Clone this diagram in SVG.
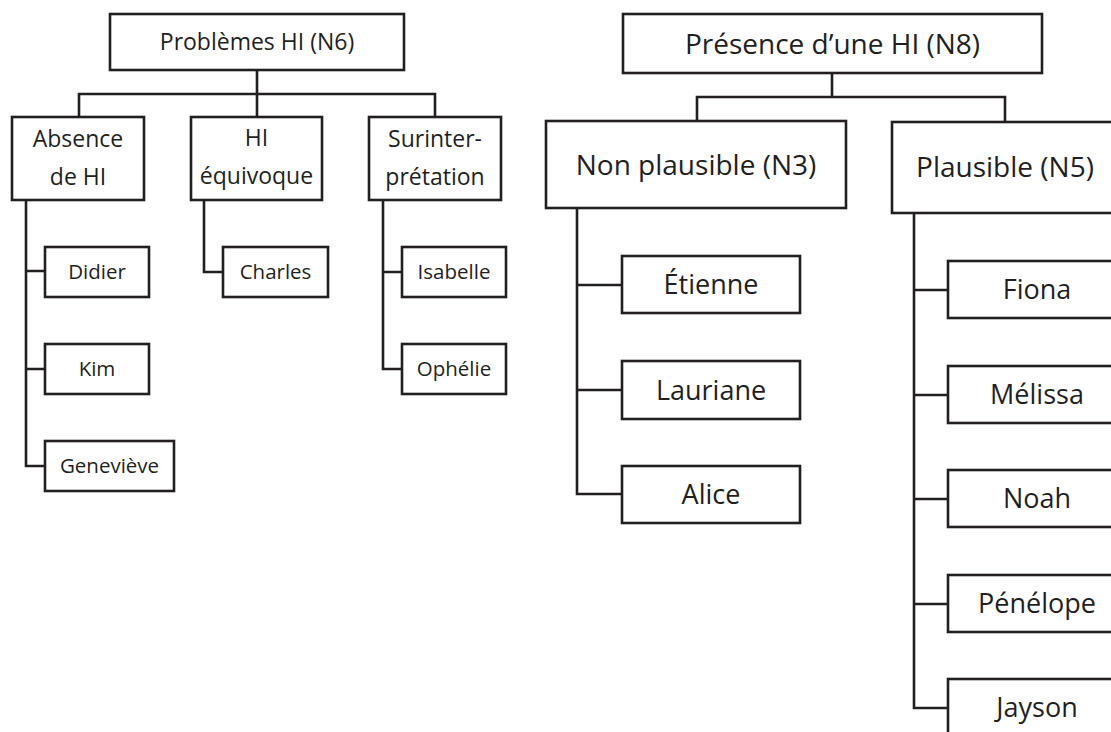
<svg xmlns="http://www.w3.org/2000/svg" width="1111" height="732" viewBox="0 0 1111 732">
<style>
rect{fill:#fff;stroke:#231f20;stroke-width:2.6}
rect.bg{stroke:none}
.c path{fill:none;stroke:#231f20;stroke-width:2.6}
text{font-family:"Open Sans","Noto Sans",sans-serif;fill:#231f20;text-anchor:middle}
.a{font-size:23px}
.n{font-size:20.5px}
.b{font-size:28px}
.m{font-size:27px}
</style>
<rect class="bg" width="1111" height="732"/>
<g class="c" id="connectors">
<path d="M257 70V94M79 117V94H435V117M257 94V117"/>
<path d="M26 200V466H45M26 271H45M26 369H45"/>
<path d="M204 200V272H223"/>
<path d="M383 200V369H402M383 272H402"/>
<path d="M832 73V97M697 121V97H1005V122"/>
<path d="M577 208V494H622M577 285H622M577 390H622"/>
<path d="M914 213V708H948M914 290H948M914 395H948M914 499H948M914 604H948"/>
</g>
<g id="n-root1"><rect x="110" y="14" width="294" height="56"/><text class="a" x="257" y="50">Problèmes HI (N6)</text></g>
<g id="n-absence"><rect x="12" y="117" width="132" height="83"/><text class="a" x="78" y="147">Absence</text><text class="a" x="78" y="185">de HI</text></g>
<g id="n-equivoque"><rect x="191" y="117" width="131" height="83"/><text class="a" x="256.5" y="146">HI</text><text class="a" x="256.5" y="184">équivoque</text></g>
<g id="n-surinter"><rect x="369" y="117" width="132" height="83"/><text class="a" x="435" y="147">Surinter-</text><text class="a" x="435" y="185">prétation</text></g>
<g id="n-didier"><rect x="45" y="247" width="104" height="50"/><text class="n" x="97" y="279">Didier</text></g>
<g id="n-kim"><rect x="45" y="344" width="104" height="50"/><text class="n" x="97" y="376">Kim</text></g>
<g id="n-genevieve"><rect x="45" y="441" width="129" height="50"/><text class="n" x="109.5" y="473">Geneviève</text></g>
<g id="n-charles"><rect x="223" y="247" width="105" height="50"/><text class="n" x="275.5" y="279">Charles</text></g>
<g id="n-isabelle"><rect x="402" y="247" width="104" height="50"/><text class="n" x="454" y="279">Isabelle</text></g>
<g id="n-ophelie"><rect x="402" y="344" width="104" height="50"/><text class="n" x="454" y="376">Ophélie</text></g>
<g id="n-root2"><rect x="623" y="14" width="419" height="59"/><text class="b" x="832.5" y="53.5">Présence d’une HI (N8)</text></g>
<g id="n-nonplausible"><rect x="546" y="121" width="300" height="87"/><text class="b" x="696" y="175">Non plausible (N3)</text></g>
<g id="n-plausible"><rect x="892" y="122" width="226" height="91"/><text class="b" x="1005" y="177">Plausible (N5)</text></g>
<g id="n-etienne"><rect x="622" y="256" width="178" height="57"/><text class="m" x="711" y="294">Étienne</text></g>
<g id="n-lauriane"><rect x="622" y="361" width="178" height="58"/><text class="m" x="711" y="399.5">Lauriane</text></g>
<g id="n-alice"><rect x="622" y="466" width="178" height="57"/><text class="m" x="711" y="504">Alice</text></g>
<g id="n-fiona"><rect x="948" y="261" width="178" height="57"/><text class="m" x="1037" y="299">Fiona</text></g>
<g id="n-melissa"><rect x="948" y="366" width="178" height="57"/><text class="m" x="1037" y="404">Mélissa</text></g>
<g id="n-noah"><rect x="948" y="470" width="178" height="57"/><text class="m" x="1037" y="508">Noah</text></g>
<g id="n-penelope"><rect x="948" y="575" width="178" height="57"/><text class="m" x="1037" y="613">Pénélope</text></g>
<g id="n-jayson"><rect x="948" y="679" width="178" height="60"/><text class="m" x="1037" y="717">Jayson</text></g>
</svg>
